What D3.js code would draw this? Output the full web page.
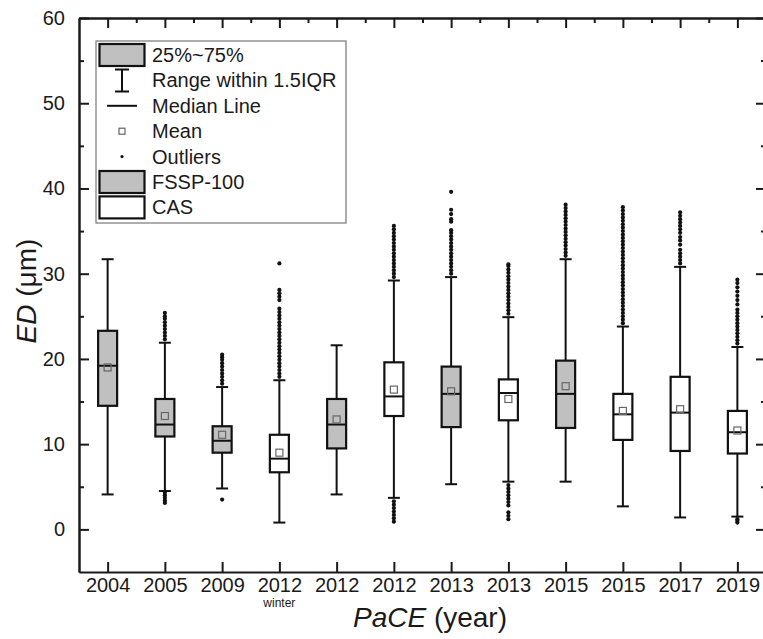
<!DOCTYPE html>
<html>
<head>
<meta charset="utf-8">
<script src="https://cdn.jsdelivr.net/npm/d3@7"></script>
<style>
body { margin: 0; background: #fff; }
svg { display: block; font-family: Arial, "Liberation Sans", sans-serif; }
</style>
</head>
<body>
<div id="chart"></div>
<script>
// boxes, one per campaign
var years = ["2004", "2005", "2009", "2012", "2012", "2012", "2013", "2013", "2015", "2015", "2017", "2019"];
var subLabels = ["", "", "", "winter", "", "", "", "", "", "", "", ""];
var instrument = ["FSSP-100", "FSSP-100", "FSSP-100", "CAS", "FSSP-100", "CAS", "FSSP-100", "CAS", "FSSP-100", "CAS", "CAS", "CAS"];

var whiskerLow  = [4.1, 4.5, 4.8, 0.8, 4.1, 3.7, 5.3, 5.6, 5.6, 2.7, 1.4, 1.5];
var q1          = [14.5, 10.9, 9.0, 6.7, 9.5, 13.3, 12.0, 12.8, 11.9, 10.5, 9.2, 8.9];
var median      = [19.2, 12.3, 10.4, 8.3, 12.3, 15.6, 15.9, 16.0, 15.9, 13.5, 13.7, 11.4];
var q3          = [23.3, 15.3, 12.1, 11.1, 15.3, 19.6, 19.1, 17.6, 19.8, 15.9, 17.9, 13.9];
var whiskerHigh = [31.7, 21.9, 16.7, 17.5, 21.6, 29.2, 29.6, 24.9, 31.7, 23.8, 30.8, 21.4];
var means       = [19.0, 13.3, 11.1, 9.0, 12.9, 16.4, 16.2, 15.3, 16.8, 13.9, 14.1, 11.6];

var outliers = [
  [],
  [22.3, 22.7, 23.1, 23.5, 23.9, 24.3, 24.7, 25.0, 25.4, 4.3, 4.0, 3.7, 3.4, 3.1],
  [17.1, 17.5, 17.9, 18.3, 18.7, 19.1, 19.5, 19.9, 20.2, 20.5, 3.5],
  [17.9, 18.3, 18.7, 19.1, 19.5, 19.9, 20.3, 20.7, 21.1, 21.5, 21.9, 22.3, 22.7, 23.1, 23.5, 23.9, 24.3, 24.7, 25.1, 25.5, 25.9, 26.9, 27.3, 27.7, 28.1, 31.2],
  [],
  [29.6, 30.0, 30.4, 30.8, 31.2, 31.6, 32.0, 32.4, 32.8, 33.2, 33.6, 34.0, 34.4, 34.8, 35.2, 35.6, 3.3, 2.9, 2.5, 2.1, 1.7, 1.3, 0.9],
  [30.0, 30.4, 30.8, 31.2, 31.6, 32.0, 32.4, 32.8, 33.2, 33.6, 34.0, 34.4, 34.8, 35.1, 36.1, 36.4, 37.0, 37.5, 39.6],
  [25.3, 25.7, 26.1, 26.5, 26.9, 27.3, 27.7, 28.1, 28.5, 28.9, 29.3, 29.7, 30.1, 30.5, 30.9, 31.1, 5.2, 4.8, 4.4, 4.0, 3.6, 3.2, 2.8, 2.0, 1.6, 1.2],
  [32.1, 32.5, 32.9, 33.3, 33.7, 34.1, 34.5, 34.9, 35.3, 35.7, 36.1, 36.5, 36.9, 37.3, 37.7, 38.1],
  [24.2, 24.6, 25.0, 25.4, 25.8, 26.2, 26.6, 27.0, 27.4, 27.8, 28.2, 28.6, 29.0, 29.4, 29.8, 30.2, 30.6, 31.0, 31.4, 31.8, 32.2, 32.6, 33.0, 33.4, 33.8, 34.2, 34.6, 35.0, 35.4, 35.8, 36.2, 36.6, 37.0, 37.4, 37.8],
  [31.2, 31.6, 32.0, 32.4, 32.8, 33.4, 33.9, 34.3, 34.8, 35.2, 35.6, 36.0, 36.4, 36.8, 37.2],
  [21.8, 22.2, 22.6, 23.0, 23.4, 23.8, 24.2, 24.6, 25.0, 25.4, 25.8, 26.4, 26.9, 27.4, 27.9, 28.4, 28.9, 29.3, 1.2, 1.0, 0.8]
];

var yTicks = [0, 10, 20, 30, 40, 50, 60];
var yMinorTicks = [5, 15, 25, 35, 45, 55];
var legendLabels = ["25%~75%", "Range within 1.5IQR", "Median Line", "Mean", "Outliers", "FSSP-100", "CAS"];

var width = 763, height = 639;
var mLeft = 79, mRight = 766, mTop = 18, mBottom = 572;
var boxW = 19, capW = 12;
var fillColor = {"FSSP-100": "#c0c0c0", "CAS": "#ffffff"};

var svg = d3.select("#chart").append("svg")
    .attr("width", width)
    .attr("height", height);

var x = d3.scaleLinear()
    .domain([-0.5, years.length - 0.5])
    .range([mLeft, mRight]);

var y = d3.scaleLinear()
    .domain([-5, 60])
    .range([mBottom, mTop]);

var idx = d3.range(years.length);

//axes, all ticks point inward
function styleAxis(g) {
    g.selectAll(".domain").attr("stroke", "#1a1a1a").attr("stroke-width", 2);
    g.selectAll(".tick line").attr("stroke", "#1a1a1a").attr("stroke-width", 2);
    g.selectAll("text").attr("fill", "#1a1a1a").style("font-size", "20px");
}

svg.append("g")
    .attr("transform", "translate(" + mLeft + ",0)")
    .call(d3.axisLeft(y).tickValues(yTicks).tickSizeInner(-10).tickSizeOuter(0).tickPadding(14))
    .call(styleAxis);
svg.append("g")
    .attr("transform", "translate(" + mLeft + ",0)")
    .call(d3.axisLeft(y).tickValues(yMinorTicks).tickSizeInner(-5).tickSizeOuter(0).tickFormat(""))
    .call(styleAxis);

svg.append("g")
    .attr("transform", "translate(" + mRight + ",0)")
    .call(d3.axisRight(y).tickValues(yTicks).tickSizeInner(-10).tickSizeOuter(0).tickFormat(""))
    .call(styleAxis);
svg.append("g")
    .attr("transform", "translate(" + mRight + ",0)")
    .call(d3.axisRight(y).tickValues(yMinorTicks).tickSizeInner(-5).tickSizeOuter(0).tickFormat(""))
    .call(styleAxis);

svg.append("g")
    .attr("transform", "translate(0," + mBottom + ")")
    .call(d3.axisBottom(x).tickValues(idx).tickSizeInner(-10).tickSizeOuter(0).tickPadding(6)
        .tickFormat(function(i) { return years[i]; }))
    .call(styleAxis);

svg.append("g")
    .attr("transform", "translate(0," + mTop + ")")
    .call(d3.axisTop(x).tickValues(idx).tickSizeInner(-10).tickSizeOuter(0).tickFormat(""))
    .call(styleAxis);
svg.append("g")
    .attr("transform", "translate(0," + mTop + ")")
    .call(d3.axisTop(x).tickValues(idx.map(function(i) { return i + 0.5; })).tickSizeInner(-5).tickSizeOuter(0).tickFormat(""))
    .call(styleAxis);

svg.selectAll(".sub-label")
    .data(idx.filter(function(i) { return subLabels[i]; }))
    .enter().append("text")
    .attr("class", "sub-label")
    .attr("x", function(i) { return x(i); })
    .attr("y", 607)
    .attr("text-anchor", "middle")
    .style("font-size", "12px")
    .attr("fill", "#1a1a1a")
    .text(function(i) { return subLabels[i]; });

// axis titles
var yTitle = svg.append("text")
    .attr("transform", "translate(36,291) rotate(-90)")
    .attr("text-anchor", "middle")
    .style("font-size", "28px")
    .attr("fill", "#1a1a1a");
yTitle.append("tspan").style("font-style", "italic").text("ED");
yTitle.append("tspan").text(" (\u03bcm)");

var xTitle = svg.append("text")
    .attr("x", 430)
    .attr("y", 627)
    .attr("text-anchor", "middle")
    .style("font-size", "28px")
    .attr("fill", "#1a1a1a");
xTitle.append("tspan").style("font-style", "italic").text("PaCE");
xTitle.append("tspan").text(" (year)");

// boxes
var boxes = svg.selectAll(".box")
    .data(idx)
    .enter().append("g")
    .attr("class", "box");

boxes.append("line")
    .attr("x1", function(i) { return x(i); })
    .attr("x2", function(i) { return x(i); })
    .attr("y1", function(i) { return y(whiskerLow[i]); })
    .attr("y2", function(i) { return y(whiskerHigh[i]); })
    .attr("stroke", "#111").attr("stroke-width", 2);

[whiskerLow, whiskerHigh].forEach(function(arr) {
    boxes.append("line")
        .attr("x1", function(i) { return x(i) - capW / 2; })
        .attr("x2", function(i) { return x(i) + capW / 2; })
        .attr("y1", function(i) { return y(arr[i]); })
        .attr("y2", function(i) { return y(arr[i]); })
        .attr("stroke", "#111").attr("stroke-width", 2);
});

boxes.append("rect")
    .attr("x", function(i) { return x(i) - boxW / 2; })
    .attr("width", boxW)
    .attr("y", function(i) { return y(q3[i]); })
    .attr("height", function(i) { return y(q1[i]) - y(q3[i]); })
    .attr("fill", function(i) { return fillColor[instrument[i]]; })
    .attr("stroke", "#111").attr("stroke-width", 2.2);

boxes.append("line")
    .attr("x1", function(i) { return x(i) - boxW / 2; })
    .attr("x2", function(i) { return x(i) + boxW / 2; })
    .attr("y1", function(i) { return y(median[i]); })
    .attr("y2", function(i) { return y(median[i]); })
    .attr("stroke", "#111").attr("stroke-width", 2);

boxes.append("rect")
    .attr("x", function(i) { return x(i) - 3.5; })
    .attr("y", function(i) { return y(means[i]) - 3.5; })
    .attr("width", 7).attr("height", 7)
    .attr("fill", "none")
    .attr("stroke", "#666").attr("stroke-width", 1.2);

boxes.selectAll(".outlier")
    .data(function(i) { return outliers[i].map(function(v) { return {i: i, v: v}; }); })
    .enter().append("circle")
    .attr("class", "outlier")
    .attr("cx", function(d) { return x(d.i); })
    .attr("cy", function(d) { return y(d.v); })
    .attr("r", 2.1)
    .attr("fill", "#111");

// legend
var lg = svg.append("g").attr("transform", "translate(96,41)");
lg.append("rect")
    .attr("width", 250).attr("height", 182)
    .attr("fill", "#fff")
    .attr("stroke", "#777").attr("stroke-width", 1.2);

var rowH = 25.4, symX = 26, row0 = 14;
lg.selectAll(".lg-text")
    .data(legendLabels)
    .enter().append("text")
    .attr("class", "lg-text")
    .attr("x", 56)
    .attr("y", function(d, k) { return row0 + k * rowH + 7; })
    .style("font-size", "20px")
    .attr("fill", "#1a1a1a")
    .text(function(d) { return d; });

[0, 5, 6].forEach(function(k) {
    lg.append("rect")
        .attr("x", 3.5).attr("y", row0 + k * rowH - 11)
        .attr("width", 45).attr("height", 22)
        .attr("fill", k === 6 ? fillColor["CAS"] : fillColor["FSSP-100"])
        .attr("stroke", "#111").attr("stroke-width", 2.2);
});
var r1 = row0 + rowH;
lg.append("path")
    .attr("d", "M" + (symX - 7) + "," + (r1 - 11) + "H" + (symX + 7) +
        "M" + symX + "," + (r1 - 11) + "V" + (r1 + 11) +
        "M" + (symX - 7) + "," + (r1 + 11) + "H" + (symX + 7))
    .attr("fill", "none").attr("stroke", "#111").attr("stroke-width", 2);
var r2 = row0 + 2 * rowH;
lg.append("line")
    .attr("x1", symX - 15).attr("x2", symX + 15)
    .attr("y1", r2).attr("y2", r2)
    .attr("stroke", "#111").attr("stroke-width", 2);
var r3 = row0 + 3 * rowH;
lg.append("rect")
    .attr("x", symX - 3).attr("y", r3 - 3)
    .attr("width", 6).attr("height", 6)
    .attr("fill", "none").attr("stroke", "#666").attr("stroke-width", 1.2);
lg.append("circle")
    .attr("cx", symX).attr("cy", row0 + 4 * rowH)
    .attr("r", 1.6).attr("fill", "#111");
</script>
</body>
</html>
